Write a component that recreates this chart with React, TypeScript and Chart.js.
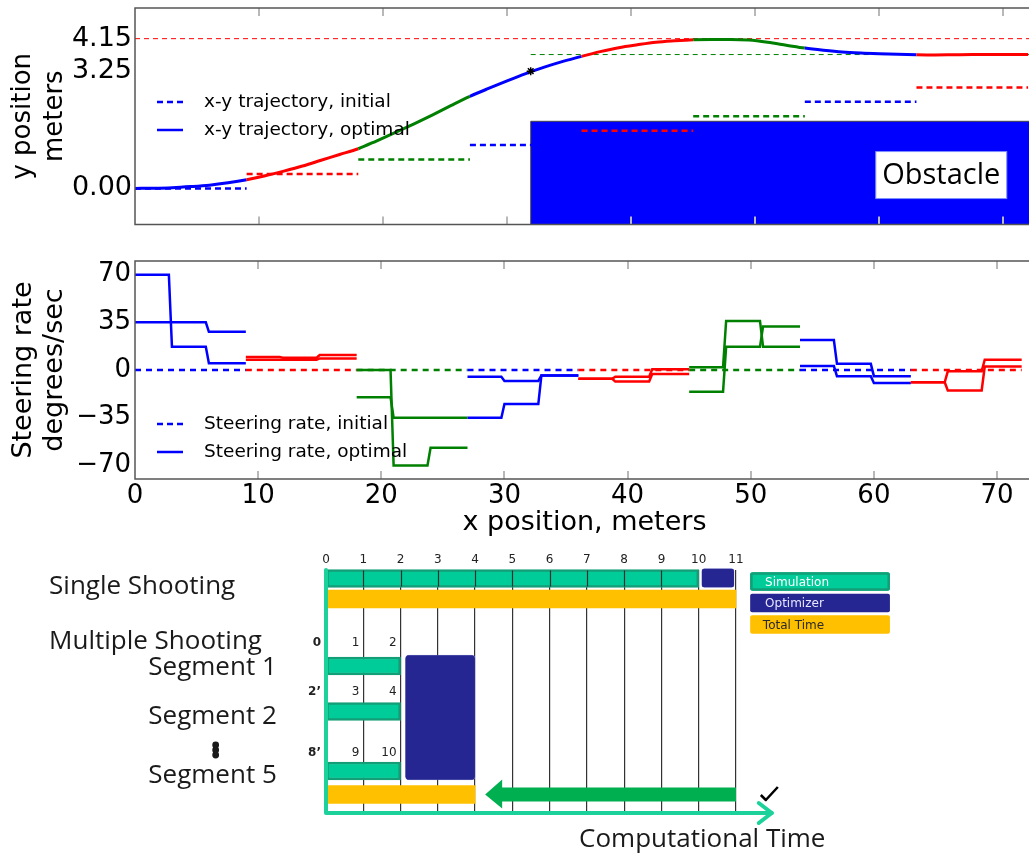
import React, { useEffect, useRef } from 'react';
import { Chart, registerables } from 'chart.js';

Chart.register(...registerables);
Chart.defaults.font.family = "'DejaVu Sans', sans-serif";
Chart.defaults.color = '#000';

// ---------------- shared ----------------
const SEGMENT_LENGTH = 9;
const SEGMENT_COLORS = ['#0000ff', '#ff0000', '#008000'];
const X_TICKS = [0, 10, 20, 30, 40, 50, 60, 70];
const X_MAX = 73;

// ---------------- top panel: x-y trajectory ----------------
const TRAJ_X = [0, 1.5, 3, 4.5, 6, 7.5, 9, 10.5, 12, 13.5, 15, 16.5, 18, 19.5, 21, 22.5, 24, 25.5, 27, 28.5, 30, 31.5, 33, 34.5, 36, 37.5, 39, 40.5, 42, 43.5, 45, 46.5, 48, 49.5, 51, 52.5, 54, 55.5, 57, 58.5, 60, 61.5, 63, 64.5, 66, 67.5, 69, 70.5, 72];
const TRAJ_Y = [0, 0.005, 0.02, 0.05, 0.09, 0.155, 0.24, 0.35, 0.48, 0.62, 0.78, 0.94, 1.1, 1.32, 1.55, 1.79, 2.04, 2.3, 2.55, 2.77, 2.98, 3.18, 3.36, 3.52, 3.66, 3.79, 3.9, 3.98, 4.05, 4.09, 4.12, 4.13, 4.13, 4.11, 4.05, 3.97, 3.89, 3.83, 3.78, 3.75, 3.73, 3.715, 3.705, 3.7, 3.705, 3.71, 3.71, 3.71, 3.71];
const INIT_TRAJ_Y = [0, 0.4, 0.8, 1.2, 1.6, 2.0, 2.4, 2.8];
const TOP_Y_TICKS = [0, 3.25, 4.15];
const MAX_LATERAL = 4.15;
const FINAL_LATERAL = 3.71;
const OBSTACLE_X = 31.9;
const OBSTACLE_TOP = 1.86;
const STAR_POINT = [31.9, 3.25];
const OBSTACLE_LABEL = 'Obstacle';
const OBSTACLE_LABEL_AT = [65.0, 0.37];

// ---------------- middle panel: steering rate ----------------
const STEP_BREAKS = [0, 2.75, 3, 5.75, 6, 9];
const STEER_A = [
  [70, 17, 5],
  [9.5, 9, 11],
  [0, -70, -57],
  [-5, -8, -4],
  [-6.5, -5, 0.5],
  [2, 36, 17],
  [22, 4.5, -4.5],
  [-9, -1, 7.5],
];
const STEER_B = [
  [35, 35, 28],
  [7.5, 7.5, 8.5],
  [-20, -35, -35],
  [-35, -25, -4],
  [-6.5, -8.5, -3],
  [-16, 17, 32],
  [3, -4.5, -9.5],
  [-9, -15, 2.5],
];
const INIT_STEER = [0, 0, 0, 0, 0, 0, 0, 0];
const MID_Y_TICKS = [-70, -35, 0, 35, 70];

// ---------------- bottom panel: shooting diagram ----------------
const STEP_TICKS = [0, 1, 2, 3, 4, 5, 6, 7, 8, 9, 10, 11];
const SINGLE_SIM = [0, 10];
const SINGLE_OPT = [10.08, 10.95];
const SINGLE_TOTAL = [0, 11];
const SEGMENT_SIMS = [[0, 2], [0, 2], [0, 2]];
const MULTI_OPT = [2.13, 4];
const MULTI_TOTAL = [0, 4];
const SPEEDUP_ARROW = [11, 4.27];
const NODE_LABELS = [['0', '1', '2'], ['2’', '3', '4'], ['8’', '9', '10']];
const SEGMENT_NAMES = ['Segment 1', 'Segment 2', 'Segment 5'];
const LEGEND_NAMES = ['Simulation', 'Optimizer', 'Total Time'];

// layout (positions in the diagram's own scale units)
const ROW = {
  singleSim: 0.85, singleOpt: 0.8, singleTotal: 2.9,
  segments: [9.6, 14.15, 20.1], multiOpt: 14.75, multiTotal: 22.45,
  nodeLabels: [7.3, 12.2, 18.3],
  singleText: 1.67, multipleText: 7.15, segmentText: [9.8, 14.67, 20.6],
  dots: [17.5, 18, 18.5], compText: 27.0,
  legend: [1.15, 3.3, 5.45],
};
const DIAG_Y_MAX = 24.3;
const SIM_FILL = '#00CC99';
const SIM_BORDER = '#139E77';
const OPT_FILL = '#262693';
const TOTAL_FILL = '#FFC000';
const ARROW_GREEN = '#00B050';
const AXIS_GREEN = '#1CD29A';

const segColor = (x: number) =>
  SEGMENT_COLORS[Math.min(7, Math.floor(x / SEGMENT_LENGTH + 1e-6)) % 3];

const stepData = (levels: number[][]) =>
  levels.flatMap((lv, k) => {
    const s = k * SEGMENT_LENGTH;
    return [
      { x: s + STEP_BREAKS[0], y: lv[0] },
      { x: s + STEP_BREAKS[1], y: lv[0] },
      { x: s + STEP_BREAKS[2], y: lv[1] },
      { x: s + STEP_BREAKS[3], y: lv[1] },
      { x: s + STEP_BREAKS[4], y: lv[2] },
      { x: s + STEP_BREAKS[5], y: lv[2] },
      { x: s + SEGMENT_LENGTH, y: null as any },
    ];
  });

const flatSegments = (levels: number[]) =>
  levels.flatMap((v, k) => [
    { x: k * SEGMENT_LENGTH, y: v },
    { x: (k + 1) * SEGMENT_LENGTH, y: v },
    { x: (k + 1) * SEGMENT_LENGTH, y: null as any },
  ]);

const segStyle = { borderColor: (c: any) => segColor(c.p0.parsed.x) };

// ---------------- plugins ----------------
const framePlugin = {
  id: 'frameTicks',
  afterDatasetsDraw(chart: any) {
    const { ctx, chartArea: a, scales } = chart;
    ctx.save();
    ctx.strokeStyle = '#b8b8b8';
    ctx.lineWidth = 2;
    for (const v of X_TICKS) {
      const px = Math.round(scales.x.getPixelForValue(v));
      if (px <= a.left + 2 || px >= a.right - 1) continue;
      ctx.beginPath();
      ctx.moveTo(px, a.top);
      ctx.lineTo(px, a.top + 8);
      ctx.moveTo(px, a.bottom);
      ctx.lineTo(px, a.bottom - 8);
      ctx.stroke();
    }
    ctx.strokeStyle = '#555';
    ctx.lineWidth = 1.5;
    ctx.strokeRect(a.left, a.top, a.right - a.left, a.bottom - a.top);
    ctx.restore();
  },
};

const legendPlugin = {
  id: 'inlineLegend',
  afterDatasetsDraw(chart: any, _args: any, opts: any) {
    if (!opts || !opts.items) return;
    const { ctx } = chart;
    ctx.save();
    ctx.font = `${opts.fontSize}px 'DejaVu Sans'`;
    ctx.textBaseline = 'middle';
    opts.items.forEach((it: any, i: number) => {
      const yy = opts.rows[i];
      ctx.strokeStyle = '#0000ff';
      ctx.lineWidth = 2.5;
      ctx.setLineDash(it.dashed ? [6, 4] : []);
      ctx.beginPath();
      ctx.moveTo(opts.x0, yy);
      ctx.lineTo(opts.x1, yy);
      ctx.stroke();
      ctx.setLineDash([]);
      ctx.fillStyle = '#000';
      ctx.fillText(it.label, opts.tx, yy);
    });
    ctx.restore();
  },
};

const obstacleLabelPlugin = {
  id: 'obstacleLabel',
  afterDatasetsDraw(chart: any) {
    const { ctx, scales } = chart;
    const cx = scales.x.getPixelForValue(OBSTACLE_LABEL_AT[0]);
    const cy = scales.y.getPixelForValue(OBSTACLE_LABEL_AT[1]);
    const w = 131, h = 47;
    ctx.save();
    ctx.fillStyle = '#fff';
    ctx.fillRect(cx - w / 2, cy - h / 2, w, h);
    ctx.strokeStyle = '#7f8fff';
    ctx.lineWidth = 1;
    ctx.strokeRect(cx - w / 2, cy - h / 2, w, h);
    ctx.fillStyle = '#000';
    ctx.font = "29px 'Open Sans'";
    ctx.textAlign = 'center';
    ctx.textBaseline = 'middle';
    ctx.fillText(OBSTACLE_LABEL, cx, cy + 1);
    ctx.restore();
  },
};

const diagramPlugin = {
  id: 'diagram',
  afterDatasetsDraw(chart: any) {
    const { ctx, scales } = chart;
    const px = (v: number) => scales.x.getPixelForValue(v);
    const py = (v: number) => scales.y.getPixelForValue(v);
    ctx.save();

    // dividers across the single-shooting simulation bar
    ctx.strokeStyle = '#2d2d2d';
    ctx.lineWidth = 1.2;
    for (let i = SINGLE_SIM[0] + 1; i < SINGLE_SIM[1]; i++) {
      ctx.beginPath();
      ctx.moveTo(Math.round(px(i)) + 0.5, py(ROW.singleSim) - 8);
      ctx.lineTo(Math.round(px(i)) + 0.5, py(ROW.singleSim) + 8);
      ctx.stroke();
    }

    // node labels per segment
    ctx.fillStyle = '#222';
    ctx.textAlign = 'right';
    ctx.textBaseline = 'middle';
    NODE_LABELS.forEach((labels, r) => {
      labels.forEach((lab, j) => {
        ctx.font = j === 0 ? "bold 12px 'DejaVu Sans'" : "12px 'DejaVu Sans'";
        ctx.fillText(lab, px(j) - (j === 0 ? 5 : 4), py(ROW.nodeLabels[r]));
      });
    });

    // green axes
    ctx.strokeStyle = AXIS_GREEN;
    ctx.lineWidth = 4;
    ctx.lineCap = 'round';
    ctx.lineJoin = 'round';
    const axisEnd = px(11.96);
    ctx.beginPath();
    ctx.moveTo(px(0), py(0));
    ctx.lineTo(px(0), py(DIAG_Y_MAX));
    ctx.lineTo(axisEnd, py(DIAG_Y_MAX));
    ctx.stroke();
    ctx.beginPath();
    ctx.moveTo(axisEnd - 13, py(DIAG_Y_MAX) - 10);
    ctx.lineTo(axisEnd, py(DIAG_Y_MAX));
    ctx.lineTo(axisEnd - 13, py(DIAG_Y_MAX) + 10);
    ctx.stroke();

    // speed-up arrow
    const ay = py(ROW.multiTotal);
    const tip = px(SPEEDUP_ARROW[1]);
    const base = tip + 17;
    ctx.fillStyle = ARROW_GREEN;
    ctx.beginPath();
    ctx.moveTo(px(SPEEDUP_ARROW[0]), ay - 7);
    ctx.lineTo(base, ay - 7);
    ctx.lineTo(base, ay - 15);
    ctx.lineTo(tip, ay);
    ctx.lineTo(base, ay + 14);
    ctx.lineTo(base, ay + 7);
    ctx.lineTo(px(SPEEDUP_ARROW[0]), ay + 7);
    ctx.closePath();
    ctx.fill();

    // check mark
    ctx.strokeStyle = '#000';
    ctx.lineWidth = 2.5;
    ctx.lineCap = 'butt';
    ctx.beginPath();
    const cx = px(11.72), cy = py(22.5);
    ctx.moveTo(cx - 2, cy);
    ctx.lineTo(cx + 3, cy + 5);
    ctx.lineTo(cx + 15, cy - 8);
    ctx.stroke();

    // left labels
    ctx.fillStyle = '#1a1a1a';
    ctx.font = "26px 'Open Sans'";
    ctx.textAlign = 'left';
    ctx.fillText('Single Shooting', px(-7.43), py(ROW.singleText));
    ctx.fillText('Multiple Shooting', px(-7.43), py(ROW.multipleText));
    ctx.textAlign = 'right';
    SEGMENT_NAMES.forEach((n, i) => ctx.fillText(n, px(-1.32), py(ROW.segmentText[i])));
    ctx.beginPath();
    ROW.dots.forEach((d) => {
      ctx.moveTo(px(-2.96) + 3.4, py(d));
      ctx.arc(px(-2.96), py(d), 3.4, 0, Math.PI * 2);
    });
    ctx.fill();
    ctx.textAlign = 'left';
    ctx.font = "26px 'Open Sans'";
    ctx.fillText('Computational Time', px(6.79), py(ROW.compText));

    // legend boxes
    const legendFill = [SIM_FILL, OPT_FILL, TOTAL_FILL];
    const legendText = ['#ffffff', '#e6e6ff', '#2a2a2a'];
    ROW.legend.forEach((r, i) => {
      const x0 = px(11.38), x1 = px(15.13);
      const y0 = py(r) - 9.25;
      ctx.fillStyle = legendFill[i];
      ctx.beginPath();
      ctx.roundRect(x0, y0, x1 - x0, 18.5, 2);
      ctx.fill();
      if (i === 0) {
        ctx.strokeStyle = SIM_BORDER;
        ctx.lineWidth = 2.5;
        ctx.beginPath();
        ctx.roundRect(x0 + 1.25, y0 + 1.25, x1 - x0 - 2.5, 16, 1.5);
        ctx.stroke();
      }
      ctx.fillStyle = legendText[i];
      ctx.font = "12px 'DejaVu Sans'";
      ctx.textAlign = 'left';
      ctx.textBaseline = 'middle';
      ctx.fillText(LEGEND_NAMES[i], px(i === 2 ? 11.72 : 11.78), py(r) + 1);
    });

    ctx.restore();
  },
};

// ---------------- configs ----------------
const baseOptions = {
  responsive: false,
  animation: false as const,
  devicePixelRatio: 1,
  events: [] as any[],
};

const fixYAxis = (s: any) => {
  s.width = 135;
  s.paddingTop = 0;
  s.paddingBottom = 0;
};

function topConfig(): any {
  return {
    type: 'line',
    data: {
      datasets: [
        {
          data: [{ x: STAR_POINT[0], y: STAR_POINT[1] }],
          showLine: false,
          pointStyle: 'star',
          pointRadius: 4,
          pointBorderColor: '#000',
          pointBorderWidth: 1.5,
          borderColor: '#000',
        },
        {
          data: TRAJ_X.map((x, i) => ({ x, y: TRAJ_Y[i] })),
          borderWidth: 3,
          pointRadius: 0,
          cubicInterpolationMode: 'monotone',
          borderColor: SEGMENT_COLORS[0],
          segment: segStyle,
        },
        {
          data: flatSegments(INIT_TRAJ_Y),
          borderWidth: 2.5,
          borderDash: [6, 4],
          pointRadius: 0,
          borderColor: SEGMENT_COLORS[0],
          segment: segStyle,
        },
        {
          data: [{ x: 0, y: MAX_LATERAL }, { x: X_MAX, y: MAX_LATERAL }],
          borderColor: '#ff0000',
          borderWidth: 1,
          borderDash: [5, 4],
          pointRadius: 0,
        },
        {
          data: [{ x: OBSTACLE_X, y: FINAL_LATERAL }, { x: X_MAX, y: FINAL_LATERAL }],
          borderColor: '#008000',
          borderWidth: 1,
          borderDash: [5, 4],
          pointRadius: 0,
        },
        {
          data: [
            { x: OBSTACLE_X, y: -1 },
            { x: OBSTACLE_X, y: OBSTACLE_TOP },
            { x: X_MAX + 5, y: OBSTACLE_TOP },
          ],
          fill: 'start',
          backgroundColor: '#0000ff',
          borderColor: '#444',
          borderWidth: 1,
          pointRadius: 0,
        },
      ],
    },
    options: {
      ...baseOptions,
      layout: { padding: { top: 8, bottom: 7.5, left: 0, right: 0 } },
      scales: {
        x: { type: 'linear', display: false, min: 0, max: X_MAX },
        y: {
          type: 'linear',
          min: -1,
          max: 5,
          afterBuildTicks: (s: any) => { s.ticks = TOP_Y_TICKS.map((v) => ({ value: v })); },
          afterFit: fixYAxis,
          ticks: { font: { size: 27 }, color: '#000', padding: 3, callback: (v: any) => Number(v).toFixed(2) },
          grid: { display: false, drawTicks: false },
          border: { display: false },
          title: {
            display: true,
            text: ['y position', 'meters'],
            color: '#000',
            font: { size: 26, lineHeight: 1.2 },
            padding: { top: 8, bottom: 0 },
          },
        },
      },
      plugins: {
        legend: { display: false },
        tooltip: { enabled: false },
        inlineLegend: {
          fontSize: 18.5, x0: 157, x1: 183, tx: 204, rows: [102, 130],
          items: [
            { label: 'x-y trajectory, initial', dashed: true },
            { label: 'x-y trajectory, optimal', dashed: false },
          ],
        },
      },
    },
    plugins: [framePlugin, obstacleLabelPlugin, legendPlugin],
  };
}

function midConfig(): any {
  return {
    type: 'line',
    data: {
      datasets: [
        { data: stepData(STEER_A), borderWidth: 2.5, pointRadius: 0, borderColor: SEGMENT_COLORS[0], segment: segStyle },
        { data: stepData(STEER_B), borderWidth: 2.5, pointRadius: 0, borderColor: SEGMENT_COLORS[0], segment: segStyle },
        { data: flatSegments(INIT_STEER), borderWidth: 2.5, borderDash: [6, 5], pointRadius: 0, borderColor: SEGMENT_COLORS[0], segment: segStyle },
      ],
    },
    options: {
      ...baseOptions,
      layout: { padding: { top: 11, bottom: 0, left: 0, right: 0 } },
      scales: {
        x: {
          type: 'linear',
          min: 0,
          max: X_MAX,
          afterBuildTicks: (s: any) => { s.ticks = X_TICKS.map((v) => ({ value: v })); },
          afterFit: (s: any) => { s.height = 61; s.paddingLeft = 0; s.paddingRight = 0; },
          ticks: { font: { size: 26 }, color: '#000', padding: 2, maxRotation: 0 },
          grid: { display: false, drawTicks: false },
          border: { display: false },
          title: {
            display: true,
            text: 'x position, meters',
            color: '#000',
            font: { size: 27, lineHeight: 1.2 },
            padding: { top: 0, bottom: 1 },
          },
        },
        y: {
          type: 'linear',
          min: -80,
          max: 80,
          afterBuildTicks: (s: any) => { s.ticks = MID_Y_TICKS.map((v) => ({ value: v })); },
          afterFit: fixYAxis,
          ticks: {
            font: { size: 26 },
            color: '#000',
            padding: 4,
            callback: (v: any) => (Number(v) < 0 ? '\u2212' + Math.abs(Number(v)) : String(v)),
          },
          grid: { display: false, drawTicks: false },
          border: { display: false },
          title: {
            display: true,
            text: ['Steering rate', 'degrees/sec'],
            color: '#000',
            font: { size: 27, lineHeight: 1.15 },
            padding: { top: 8, bottom: 0 },
          },
        },
      },
      plugins: {
        legend: { display: false },
        tooltip: { enabled: false },
        inlineLegend: {
          fontSize: 18.5, x0: 157, x1: 183, tx: 204, rows: [174, 202],
          items: [
            { label: 'Steering rate, initial', dashed: true },
            { label: 'Steering rate, optimal', dashed: false },
          ],
        },
      },
    },
    plugins: [framePlugin, legendPlugin],
  };
}

function bottomConfig(): any {
  const common = { stack: 'all', borderSkipped: false, clip: false as any };
  return {
    type: 'bar',
    data: {
      datasets: [
        {
          ...common,
          data: [
            { x: SINGLE_SIM, y: ROW.singleSim },
            ...SEGMENT_SIMS.map((s, i) => ({ x: s, y: ROW.segments[i] })),
          ],
          backgroundColor: SIM_FILL,
          borderColor: SIM_BORDER,
          borderWidth: 2.5,
          barThickness: 18,
        },
        {
          ...common,
          data: [{ x: SINGLE_OPT, y: ROW.singleOpt }],
          backgroundColor: OPT_FILL,
          borderColor: '#8a8ad0',
          borderWidth: 0.5,
          borderRadius: { topLeft: 3, topRight: 3, bottomLeft: 3, bottomRight: 3 },
          barThickness: 19,
        },
        {
          ...common,
          data: [{ x: MULTI_OPT, y: ROW.multiOpt }],
          backgroundColor: OPT_FILL,
          borderColor: '#8a8ad0',
          borderWidth: 0.5,
          borderRadius: { topLeft: 4, topRight: 4, bottomLeft: 4, bottomRight: 4 },
          barThickness: 125,
        },
        {
          ...common,
          data: [
            { x: SINGLE_TOTAL, y: ROW.singleTotal },
            { x: MULTI_TOTAL, y: ROW.multiTotal },
          ],
          backgroundColor: TOTAL_FILL,
          borderWidth: 0,
          barThickness: 18,
        },
      ],
    },
    options: {
      ...baseOptions,
      indexAxis: 'y',
      layout: { padding: { left: 326, right: 293, top: 0, bottom: 44 } },
      scales: {
        x: {
          type: 'linear',
          position: 'top',
          min: 0,
          max: 11,
          stacked: false,
          offset: false,
          afterBuildTicks: (s: any) => { s.ticks = STEP_TICKS.map((v) => ({ value: v })); },
          afterFit: (s: any) => { s.height = 30; s.paddingLeft = 0; s.paddingRight = 0; },
          ticks: { font: { size: 12 }, color: '#222', padding: 3, maxRotation: 0 },
          grid: { color: '#333', lineWidth: 1.2, drawTicks: false, offset: false },
          border: { display: false },
        },
        y: {
          type: 'linear',
          display: false,
          min: 0,
          max: DIAG_Y_MAX,
          reverse: true,
          offset: false,
          grid: { offset: false },
        },
      },
      plugins: { legend: { display: false }, tooltip: { enabled: false } },
    },
    plugins: [diagramPlugin],
  };
}

export default function App() {
  const topRef = useRef<HTMLCanvasElement>(null);
  const midRef = useRef<HTMLCanvasElement>(null);
  const botRef = useRef<HTMLCanvasElement>(null);

  useEffect(() => {
    const charts = [
      new Chart(topRef.current as HTMLCanvasElement, topConfig()),
      new Chart(midRef.current as HTMLCanvasElement, midConfig()),
      new Chart(botRef.current as HTMLCanvasElement, bottomConfig()),
    ];
    return () => charts.forEach((c) => c.destroy());
  }, []);

  return (
    <div
      style={{
        position: 'absolute', left: 0, top: 0, width: 1029, height: 857,
        overflow: 'hidden', background: '#fff',
      }}
    >
      <canvas ref={topRef} width={1046} height={232} style={{ position: 'absolute', left: 0, top: 0 }} />
      <canvas ref={midRef} width={1034} height={290} style={{ position: 'absolute', left: 0, top: 250 }} />
      <canvas ref={botRef} width={1029} height={317} style={{ position: 'absolute', left: 0, top: 540 }} />
    </div>
  );
}
